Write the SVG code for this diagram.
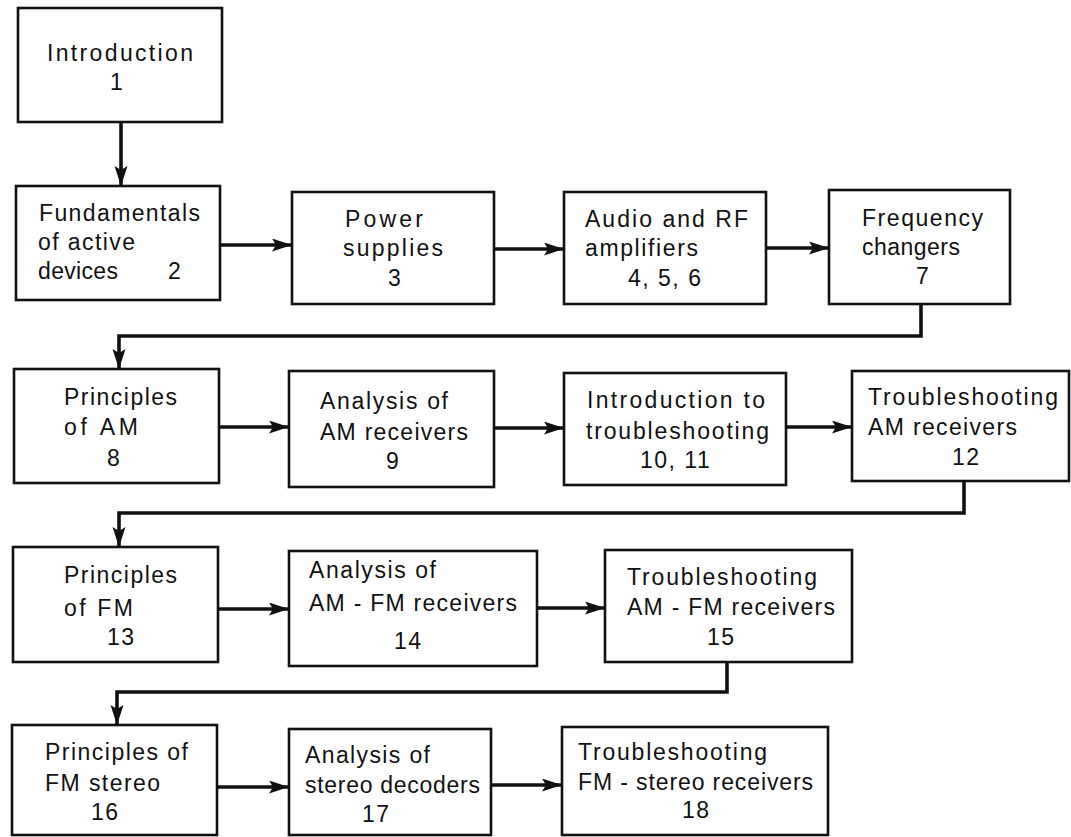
<svg xmlns="http://www.w3.org/2000/svg" width="1071" height="837" viewBox="0 0 1071 837">
<style>
  rect.box { fill: #fff; stroke: #111; stroke-width: 2.6; }
  text { font-family: "Liberation Sans", Arial, sans-serif; font-size: 23px; letter-spacing: 1.5px; fill: #111; }
  text[textLength] { letter-spacing: 0; }
  path.conn { fill: none; stroke: #111; stroke-width: 3.6; stroke-linejoin: miter; }
</style>
<defs>
  <marker id="arr" markerUnits="userSpaceOnUse" markerWidth="22" markerHeight="14" refX="20" refY="6.5" orient="auto">
    <path d="M0,0 L20,6.5 L0,13 L4,6.5 z" fill="#111"/>
  </marker>
</defs>
<rect width="1071" height="837" fill="#fff"/>

<g id="connectors">
  <path class="conn" d="M121,122 V186" marker-end="url(#arr)"/>
  <path class="conn" d="M220,245 H292" marker-end="url(#arr)"/>
  <path class="conn" d="M494,249 H564" marker-end="url(#arr)"/>
  <path class="conn" d="M766,248 H829" marker-end="url(#arr)"/>
  <path class="conn" d="M921,304 V336 H119 V369" marker-end="url(#arr)"/>
  <path class="conn" d="M219,427 H289" marker-end="url(#arr)"/>
  <path class="conn" d="M494,428 H564" marker-end="url(#arr)"/>
  <path class="conn" d="M786,427 H852" marker-end="url(#arr)"/>
  <path class="conn" d="M964,481 V513 H119 V547" marker-end="url(#arr)"/>
  <path class="conn" d="M218,609 H289" marker-end="url(#arr)"/>
  <path class="conn" d="M537,608 H605" marker-end="url(#arr)"/>
  <path class="conn" d="M727,662 V692 H117 V725" marker-end="url(#arr)"/>
  <path class="conn" d="M217,787 H289" marker-end="url(#arr)"/>
  <path class="conn" d="M491,785 H562" marker-end="url(#arr)"/>
</g>

<g id="n1">
  <rect class="box" x="18" y="8" width="204" height="114"/>
  <text x="47" y="61" textLength="146">Introduction</text>
  <text x="110" y="90">1</text>
</g>
<g id="n2">
  <rect class="box" x="16" y="186" width="204" height="114"/>
  <text x="39" y="221" textLength="161">Fundamentals</text>
  <text x="38" y="250" textLength="97">of active</text>
  <text x="38" y="279" textLength="80">devices</text>
  <text x="168" y="279">2</text>
</g>
<g id="n3">
  <rect class="box" x="292" y="192" width="202" height="112"/>
  <text x="345" y="227" textLength="78">Power</text>
  <text x="343" y="256" textLength="100">supplies</text>
  <text x="388" y="286">3</text>
</g>
<g id="n4">
  <rect class="box" x="564" y="192" width="202" height="112"/>
  <text x="585" y="227" textLength="163">Audio and RF</text>
  <text x="585" y="256" textLength="113">amplifiers</text>
  <text x="628" y="286">4, 5, 6</text>
</g>
<g id="n5">
  <rect class="box" x="829" y="190" width="181" height="114"/>
  <text x="862" y="226" textLength="121">Frequency</text>
  <text x="862" y="255" textLength="98">changers</text>
  <text x="916" y="284">7</text>
</g>
<g id="n8">
  <rect class="box" x="14" y="369" width="205" height="114"/>
  <text x="64" y="405" textLength="113">Principles</text>
  <text x="64" y="435" textLength="74">of AM</text>
  <text x="107" y="466">8</text>
</g>
<g id="n9">
  <rect class="box" x="289" y="371" width="205" height="116"/>
  <text x="320" y="409" textLength="128">Analysis of</text>
  <text x="320" y="440" textLength="148">AM receivers</text>
  <text x="386" y="469">9</text>
</g>
<g id="n10">
  <rect class="box" x="564" y="373" width="222" height="112"/>
  <text x="587" y="408" textLength="178">Introduction to</text>
  <text x="586" y="439" textLength="183">troubleshooting</text>
  <text x="640" y="468">10, 11</text>
</g>
<g id="n12">
  <rect class="box" x="852" y="371" width="217" height="110"/>
  <text x="868" y="405" textLength="190">Troubleshooting</text>
  <text x="868" y="435" textLength="149">AM receivers</text>
  <text x="952" y="465">12</text>
</g>
<g id="n13">
  <rect class="box" x="13" y="547" width="205" height="115"/>
  <text x="64" y="583" textLength="113">Principles</text>
  <text x="64" y="616" textLength="69">of FM</text>
  <text x="107" y="645">13</text>
</g>
<g id="n14">
  <rect class="box" x="289" y="551" width="248" height="115"/>
  <text x="309" y="578" textLength="127">Analysis of</text>
  <text x="309" y="611" textLength="208">AM - FM receivers</text>
  <text x="394" y="649">14</text>
</g>
<g id="n15">
  <rect class="box" x="605" y="550" width="247" height="112"/>
  <text x="627" y="585" textLength="190">Troubleshooting</text>
  <text x="627" y="615" textLength="208">AM - FM receivers</text>
  <text x="707" y="645">15</text>
</g>
<g id="n16">
  <rect class="box" x="12" y="725" width="205" height="110"/>
  <text x="45" y="760" textLength="143">Principles of</text>
  <text x="45" y="791" textLength="115">FM stereo</text>
  <text x="91" y="820">16</text>
</g>
<g id="n17">
  <rect class="box" x="289" y="729" width="202" height="106"/>
  <text x="305" y="763" textLength="125">Analysis of</text>
  <text x="305" y="793" textLength="175">stereo decoders</text>
  <text x="362" y="822">17</text>
</g>
<g id="n18">
  <rect class="box" x="562" y="727" width="266" height="108"/>
  <text x="578" y="760" textLength="189">Troubleshooting</text>
  <text x="578" y="790" textLength="235">FM - stereo receivers</text>
  <text x="682" y="818">18</text>
</g>
</svg>
